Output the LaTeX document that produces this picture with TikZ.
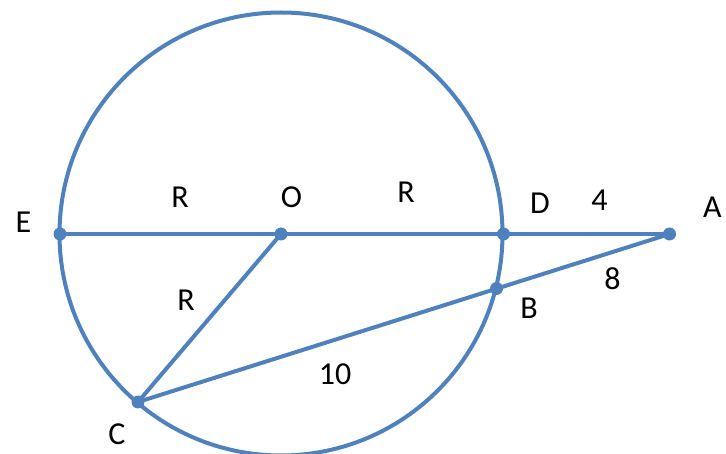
\documentclass[tikz,border=0pt]{standalone}
\usepackage{fontspec}
\setmainfont{Carlito}
\definecolor{geo}{HTML}{4F81BD}
\begin{document}
\begin{tikzpicture}[x=1pt,y=-1pt,
  seg/.style={draw=geo,line width=4pt},
  pt/.style={circle,fill=geo,inner sep=0pt,minimum size=13pt},
  lab/.style={inner sep=0pt,font=\fontsize{32}{32}\selectfont}]
\useasboundingbox (0,0) rectangle (726,454);
\coordinate (Oc) at (281,234);
\draw[seg] (Oc) circle[radius=221.5];
\node[pt] (E) at (60,234) {};
\node[pt] (O) at (281,234) {};
\node[pt] (D) at (503.5,234) {};
\node[pt] (A) at (669.5,234) {};
\node[pt] (B) at (496.5,288.5) {};
\node[pt] (C) at (138,402) {};
\draw[seg] (E.center) -- (A.center);
\draw[seg] (A.center) -- (C.center);
\draw[seg] (O.center) -- (C.center);
\node[lab] at (23.5,222.5) {E};
\node[lab] at (180,197) {R};
\node[lab] at (291.5,197) {O};
\node[lab] at (406,192.5) {R};
\node[lab] at (540,203.5) {D};
\node[lab] at (599.5,200) {4};
\node[lab] at (712.5,207) {A};
\node[lab] at (612.5,278.5) {8};
\node[lab] at (529,308.5) {B};
\node[lab] at (186,300) {R};
\node[lab] at (335,374) {10};
\node[lab] at (117,434.5) {C};
\end{tikzpicture}
\end{document}
